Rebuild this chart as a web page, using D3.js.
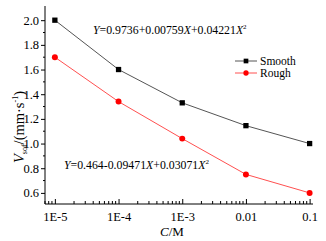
<!DOCTYPE html>
<html>
<head>
<meta charset="utf-8">
<script src="https://cdn.jsdelivr.net/npm/d3@7"></script>
<style>
  body { margin: 0; background: #fff; }
</style>
</head>
<body>
<div id="chart"></div>
<script>
var concentrations = [1e-5, 1e-4, 1e-3, 0.01, 0.1];
var xTickLabels = ["1E-5", "1E-4", "1E-3", "0.01", "0.1"];
var smooth = [2.0, 1.6, 1.33, 1.145, 1.0];
var rough = [1.70, 1.34, 1.04, 0.75, 0.60];
var yTicks = [0.6, 0.8, 1.0, 1.2, 1.4, 1.6, 1.8, 2.0];

var serif = "'Liberation Serif', 'Times New Roman', serif";

var svg = d3.select("#chart")
    .append("svg")
        .attr("width", 326)
        .attr("height", 241);

var x = d3.scaleLog()
        .domain([7e-6, 0.113])
        .range([45, 313]);

var y = d3.scaleLinear()
        .domain([0.51, 2.115])
        .range([204, 6]);

// y axis
var yAxis = svg.append("g")
    .attr("transform", "translate(45,0)")
    .call(d3.axisLeft(y).tickValues(yTicks).tickFormat(d3.format(".1f")).tickSize(4).tickPadding(2));
yAxis.select(".domain").attr("d", "M0," + y.range()[1] + "V" + y.range()[0]);
yAxis.selectAll("text").attr("font-size", 12.5);

// y minor ticks
var yMinor = d3.range(0.7, 2.05, 0.2);
svg.append("g").selectAll("line")
    .data(yMinor)
    .join("line")
        .attr("x1", 43).attr("x2", 45)
        .attr("y1", function(d) { return y(d); })
        .attr("y2", function(d) { return y(d); })
        .attr("stroke", "#000");

// x axis, ticks drawn inward
var xAxis = svg.append("g")
    .attr("transform", "translate(0,204)")
    .call(d3.axisBottom(x).tickValues(concentrations)
        .tickFormat(function(d, i) { return xTickLabels[i]; })
        .tickSize(-5).tickPadding(6));
xAxis.select(".domain").attr("d", "M" + x.range()[0] + ",0H" + x.range()[1]);
xAxis.selectAll("text").attr("font-size", 12.5).attr("dy", "0.9em");

var xMinor = [];
[1e-6, 1e-5, 1e-4, 1e-3, 1e-2, 1e-1].forEach(function(p) {
    for (var k = 2; k <= 9; k++) {
        var v = p * k;
        if (v >= x.domain()[0] && v <= x.domain()[1]) xMinor.push(v);
    }
});
svg.append("g").selectAll("line")
    .data(xMinor)
    .join("line")
        .attr("x1", function(d) { return x(d); })
        .attr("x2", function(d) { return x(d); })
        .attr("y1", 204).attr("y2", 201)
        .attr("stroke", "#000");

// axis labels
svg.append("text")
    .attr("x", 172).attr("y", 236)
    .attr("text-anchor", "middle")
    .attr("font-size", 13)
    .html('<tspan font-style="italic">C</tspan>/M');

var yl = svg.append("text")
    .attr("transform", "translate(24,127) rotate(-90)")
    .attr("text-anchor", "middle")
    .attr("font-size", 14.5);
yl.append("tspan").attr("font-style", "italic").text("V");
yl.append("tspan").attr("font-size", 8).attr("dy", 3).text("sof");
yl.append("tspan").attr("dy", -3).text("/(mm·s");
yl.append("tspan").attr("font-size", 8).attr("dy", -6).text("-1");
yl.append("tspan").attr("dy", 6).text(")");

// series
var series = [
    {name: "Smooth", values: smooth, color: "#000", line: "#555", shape: "square"},
    {name: "Rough", values: rough, color: "#ff0000", line: "#ff5050", shape: "circle"}
];

var line = d3.line()
    .x(function(d, i) { return x(concentrations[i]); })
    .y(function(d) { return y(d); });

series.forEach(function(s) {
    svg.append("path")
        .datum(s.values)
        .attr("fill", "none")
        .attr("stroke", s.line)
        .attr("stroke-width", 1)
        .attr("d", line);
    svg.append("g").selectAll("path")
        .data(s.values)
        .join("path")
            .attr("transform", function(d, i) { return "translate(" + x(concentrations[i]) + "," + y(d) + ")"; })
            .attr("d", d3.symbol().type(s.shape === "square" ? d3.symbolSquare : d3.symbolCircle).size(28))
            .attr("fill", s.color);
});

// legend
series.forEach(function(s, i) {
    var ly = 61 + i * 12;
    svg.append("line")
        .attr("x1", 235).attr("x2", 257)
        .attr("y1", ly).attr("y2", ly)
        .attr("stroke", s.line);
    svg.append("path")
        .attr("transform", "translate(246," + ly + ")")
        .attr("d", d3.symbol().type(s.shape === "square" ? d3.symbolSquare : d3.symbolCircle).size(22))
        .attr("fill", s.color);
    svg.append("text")
        .attr("x", 260).attr("y", ly + 4)
        .attr("font-size", 11.5)
        .text(s.name);
});

// fit equations
function equation(xp, yp, a, b, c) {
    var t = svg.append("text").attr("x", xp).attr("y", yp).attr("font-size", 11.8);
    t.append("tspan").attr("font-style", "italic").text("Y");
    t.append("tspan").text("=" + a + b);
    t.append("tspan").attr("font-style", "italic").text("X");
    t.append("tspan").text(c);
    t.append("tspan").attr("font-style", "italic").text("X");
    t.append("tspan").attr("font-size", 7).attr("dy", -5).text("2");
}
equation(93, 34, "0.9736", "+0.00759", "+0.04221");
equation(64, 169, "0.464", "-0.09471", "+0.03071");

// every text in the serif face, set as style so it beats the axis attribute
svg.selectAll("text").style("font-family", serif);
</script>
</body>
</html>
